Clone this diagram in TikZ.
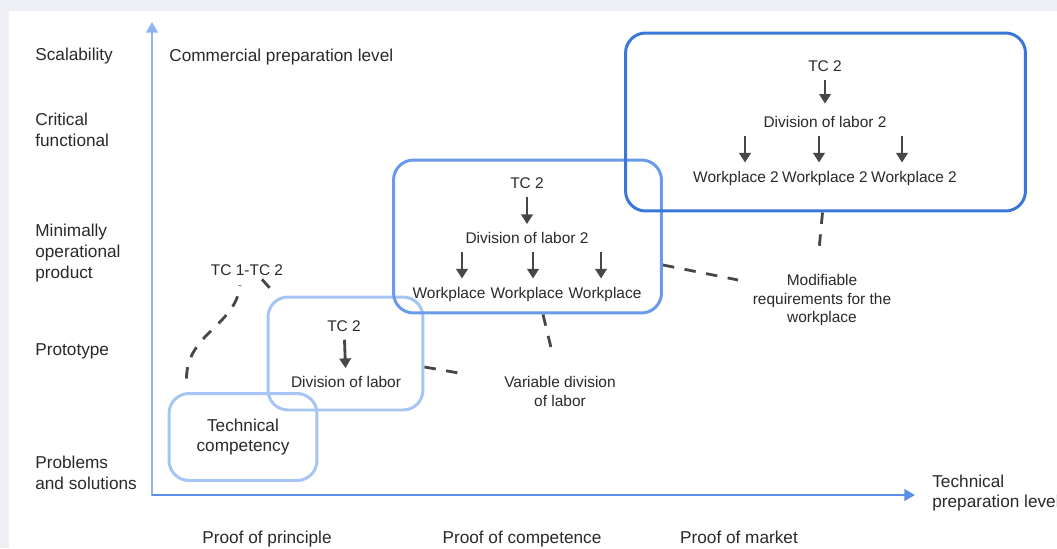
\documentclass[tikz,border=0pt]{standalone}
\usepackage{fontspec}
\setmainfont{Liberation Sans}
\usetikzlibrary{arrows.meta}
\definecolor{bggray}{HTML}{EEEFF5}
\definecolor{axisy}{HTML}{8DB3F2}
\definecolor{axisx}{HTML}{5B8FE6}
\definecolor{boxlight}{HTML}{A6C4F4}
\definecolor{boxmid}{HTML}{6A9BEA}
\definecolor{boxdark}{HTML}{3B77D9}
\definecolor{ink}{HTML}{2A2A2A}
\definecolor{linegray}{HTML}{474747}

\begin{document}
\begin{tikzpicture}[x=0.02cm, y=-0.02cm,
    lbl/.style={font=\fontsize{9.8}{11.9}\selectfont, text=ink, align=left, inner sep=0},
    txt/.style={font=\fontsize{8.8}{10.8}\selectfont, text=ink, inner sep=2pt},
    box/.style={rectangle, rounded corners=0.4cm, line width=1.7pt},
    arr/.style={-{Triangle[width=6.5pt,length=5.5pt]}, line width=1.6pt, draw=linegray, shorten <=2.5pt, shorten >=2.5pt},
    link/.style={line width=1.6pt, draw=linegray, dash pattern=on 6.5pt off 6pt},
    ]
    \useasboundingbox (0,0) rectangle (1057,548);
    \fill[bggray] (0,0) rectangle (1057,548);
    \fill[white] (9,11) rectangle (1057,548);
    \draw
    (152,496)coordinate(o)
    (152,22)coordinate(ytip)
    (915,495)coordinate(xtip)
    ;
    \draw[axisy, line width=1.4pt, -{Triangle[width=6.5pt,length=6pt]}](o)--(ytip);
    \draw[axisx, line width=1.4pt, -{Triangle[width=6.5pt,length=6pt]}](o|-xtip)--(xtip);
    \node[lbl, anchor=west](scal) at (35,56){Scalability};
    \node[lbl, anchor=west](crit) at (35,130){Critical\\functional};
    \node[lbl, anchor=west](mvp) at (35,253){Minimally\\operational\\product};
    \node[lbl, anchor=west](proto) at (35,351){Prototype};
    \node[lbl, anchor=west](prob) at (35,473){Problems\\and solutions};
    \node[lbl, anchor=west](comm) at (169,57){Commercial preparation level};
    \node[lbl, anchor=west](tech) at (932,493){Technical\\preparation level};
    \node[lbl, anchor=base](pprin) at (267,543){Proof of principle};
    \node[lbl, anchor=base](pcomp) at (522,543){Proof of competence};
    \node[lbl, anchor=base](pmark) at (739,543){Proof of market};
    \node[box, lbl, align=center, draw=boxlight, minimum width=2.96cm, minimum height=1.74cm](b1) at (243,437){Technical\\competency};
    \node[box, draw=boxlight, minimum width=3.1cm, minimum height=2.26cm](b2) at (345.5,353.5){};
    \node[box, draw=boxmid, minimum width=5.36cm, minimum height=3.06cm](b3) at (527.5,236.5){};
    \node[box, draw=boxdark, minimum width=8cm, minimum height=3.56cm](b4) at (825.5,122){};
    \node[txt](tc2a) at (344,326){TC 2};
    \node[txt](div1) at (346,382){Division of labor};
    \node[txt](tc2b) at (527,183){TC 2};
    \node[txt](div2) at (527,238){Division of labor 2};
    \node[txt](wpa1) at (449,294){Workplace};
    \node[txt](wpa2) at (527,294){Workplace};
    \node[txt](wpa3) at (605,294){Workplace};
    \node[txt](tc2c) at (825,66){TC 2};
    \node[txt](div3) at (825,122){Division of labor 2};
    \node[txt](wpb1) at (736,178){Workplace 2};
    \node[txt](wpb2) at (825,178){Workplace 2};
    \node[txt](wpb3) at (914,178){Workplace 2};
    \node[txt](tc12) at (247,270){TC 1-TC 2};
    \node[txt, align=center](var) at (560,391){Variable division\\of labor};
    \node[txt, align=center](mod) at (822,300){Modifiable\\requirements for the\\workplace};
    \draw[arr](tc2a)--(div1);
    \draw[arr](tc2b)--(div2);
    \draw[arr]([xshift=0.26cm]div2.south-|wpa1)--([xshift=0.26cm]wpa1.north);
    \draw[arr]([xshift=0.12cm]div2.south-|wpa2)--([xshift=0.12cm]wpa2.north);
    \draw[arr]([xshift=-0.08cm]div2.south-|wpa3)--([xshift=-0.08cm]wpa3.north);
    \draw[arr, shorten >=5pt](tc2c)--(div3);
    \draw[arr]([xshift=0.18cm]div3.south-|wpb1)--([xshift=0.18cm]wpb1.north);
    \draw[arr]([xshift=-0.12cm]div3.south-|wpb2)--([xshift=-0.12cm]wpb2.north);
    \draw[arr]([xshift=-0.24cm]div3.south-|wpb3)--([xshift=-0.24cm]wpb3.north);
    \draw[link]([xshift=0.38cm,yshift=0.27cm]b1.north west) .. controls +(0,0.9cm) and +(-0.08cm,-0.8cm) .. ([xshift=-0.14cm,yshift=-0.12cm]tc12.south);
    \draw[link]([xshift=-0.5cm]tc12.south east)--([xshift=0.2cm]b2.north west);
    \draw[link]([yshift=-0.27cm]b2.east)--([xshift=-0.72cm,yshift=0.34cm]var.west);
    \draw[link]([xshift=0.31cm]b3.south)--([xshift=-0.14cm,yshift=0.32cm]var.north);
    \draw[link]([yshift=-0.57cm]b3.east)--([xshift=-0.22cm,yshift=0.4cm]mod.west);
    \draw[link]([xshift=-0.06cm]b4.south)--([xshift=-0.06cm,yshift=0.4cm]mod.north);
\end{tikzpicture}
\end{document}
